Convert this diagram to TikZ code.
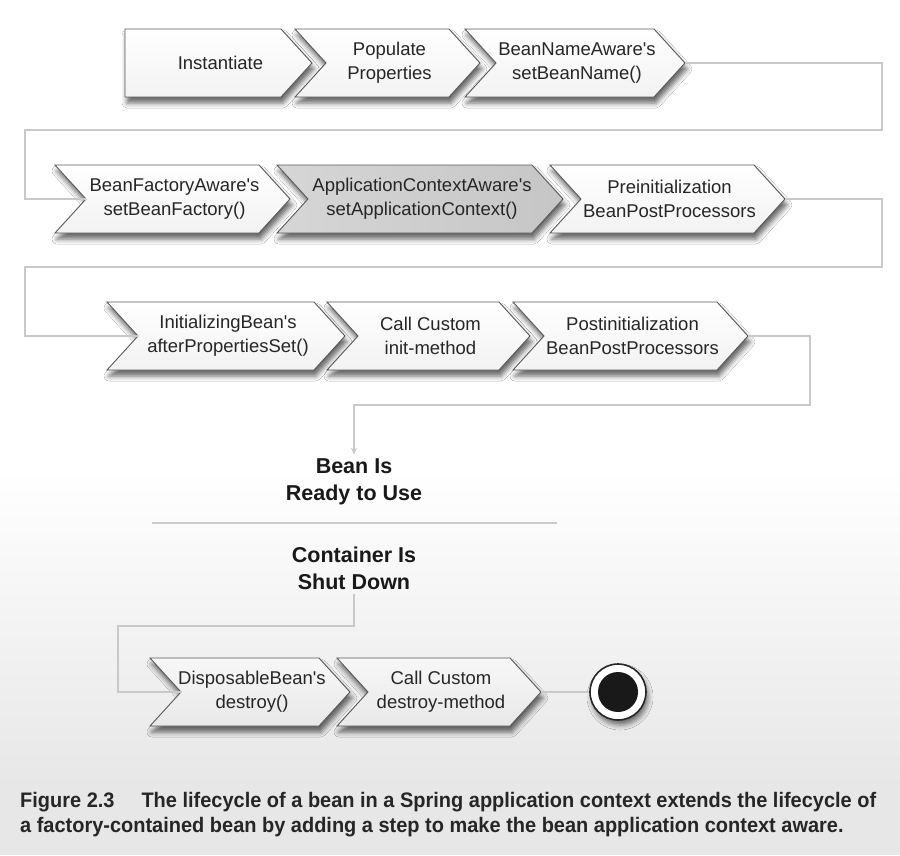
\documentclass[tikz,border=0pt]{standalone}
\usepackage{fontspec}
\setmainfont{Liberation Sans}
\newfontfamily\capfont[FakeStretch=0.951]{Liberation Sans}
\usetikzlibrary{arrows.meta,shadows.blur}

\tikzset{
  chev/.style={draw=black!65, line width=0.9pt, top color=white, bottom color=gray!10,
    blur shadow={shadow xshift=2pt, shadow yshift=-6pt, shadow blur radius=5pt, shadow opacity=60}},
  chevdark/.style={left color=gray!32, middle color=gray!8, right color=gray!45},
  chevlow/.style={top color=gray!6, bottom color=gray!18},
  chevtext/.style={font=\fontsize{18.5}{24}\selectfont, align=center, text=black!85, inner sep=0pt},
  state/.style={font=\bfseries\fontsize{21.5}{27}\selectfont, align=center, inner sep=4pt, text=black!90},
  conn/.style={draw=gray!42, line width=1.6pt},
  endstate/.style={circle, minimum size=56pt, inner sep=0pt, draw=black!85, line width=1.6pt, fill=white,
    blur shadow={shadow xshift=2pt, shadow yshift=-5pt, shadow blur radius=5pt, shadow opacity=55},
    path picture={\fill[black!90] (path picture bounding box.center) circle (20pt);}},
  captext/.style={font=\capfont\bfseries\fontsize{21}{26}\selectfont, text=black!85, inner sep=0pt, anchor=base west}
}

% chevron: [style]{name}{left}{tip}{y}{notch}{text}
\newcommand{\chevron}[7][]{%
  \path[chev,#1] (#3,#5-34) -- (#4-31,#5-34) -- (#4,#5) -- (#4-31,#5+34)
    -- (#3,#5+34) -- (#3+#6,#5) -- cycle;
  \coordinate (#2-in) at (#3+#6,#5);
  \coordinate (#2-out) at (#4,#5);
  \node[chevtext] (#2) at ({(#3+#4)/2+2},#5) {#7};
}
\newcommand{\q}{\textquotesingle}

\begin{document}
\begin{tikzpicture}[x=1pt,y=-1pt]
  \useasboundingbox (0,0) rectangle (900,855);
  % background
  \fill[white] (0,0) rectangle (900,855);
  \shade[top color=white, bottom color=gray!19] (0,470) rectangle (900,790);
  \fill[gray!19] (0,790) rectangle (900,855);

  % first row
  \chevron{inst}{125}{312}{63}{0}{Instantiate}
  \chevron{popu}{295}{480}{63}{31}{Populate\\Properties}
  \chevron{bname}{465}{685}{63}{31}{BeanNameAware\q s\\setBeanName()}

  % second row
  \chevron{bfact}{55}{290}{199}{31}{BeanFactoryAware\q s\\setBeanFactory()}
  \chevron[chevdark]{actx}{277}{563}{199}{31}{ApplicationContextAware\q s\\setApplicationContext()}
  \chevron{preinit}{550}{785}{199}{31}{Preinitialization\\BeanPostProcessors}

  % third row
  \chevron{afterps}{107}{345}{336}{31}{InitializingBean\q s\\afterPropertiesSet()}
  \chevron{initm}{327}{530}{336}{31}{Call Custom\\init-method}
  \chevron{postinit}{513}{748}{336}{31}{Postinitialization\\BeanPostProcessors}

  \node[state] (ready) at (354,482) {Bean Is\\Ready to Use};
  \draw[gray!40, line width=1.5pt] (152,523) -- (557,523);
  \node[state] (shut) at (354,568) {Container Is\\Shut Down};

  % last row
  \chevron[chevlow]{dispo}{150}{350}{692}{31}{DisposableBean\q s\\destroy()}
  \chevron[chevlow]{destm}{337}{541}{692}{31}{Call Custom\\destroy-method}
  \node[endstate] (done) at (618,692) {};

  % connectors
  \draw[conn] (bname-out) -| (882,130) -| (25,199) -- (bfact-in);
  \draw[conn] (preinit-out) -| (882,267) -| (25,336) -- (afterps-in);
  \draw[conn, -{Stealth[length=7pt,width=6pt]}] (postinit-out) -| (810,405) -| (ready.north);
  \draw[conn] (shut.south) |- (118,626) |- (dispo-in);
  \draw[conn] (destm-out) -- (done);

  % caption
  \node[captext] (capA) at (20,807) {Figure 2.3\hspace{27pt}The lifecycle of a bean in a Spring application context extends the lifecycle of};
  \node[captext] (capB) at (20,832) {a factory-contained bean by adding a step to make the bean application context aware.};
\end{tikzpicture}
\end{document}
